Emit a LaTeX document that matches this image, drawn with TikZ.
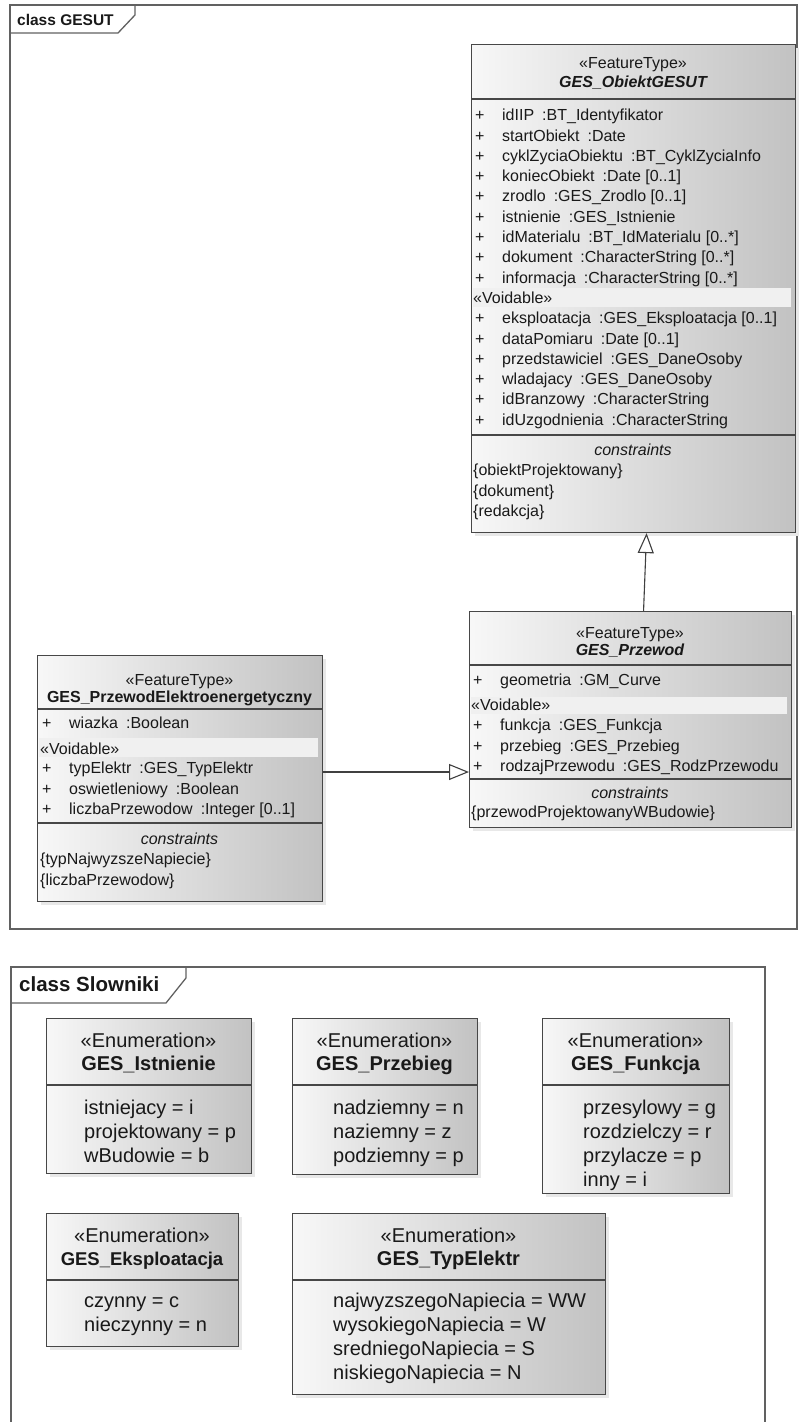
\documentclass[tikz,border=0pt]{standalone}
\usepackage{fontspec}
\setmainfont{Liberation Sans}
\usetikzlibrary{arrows.meta,shadows}
\newcommand\fsA{\fontsize{16pt}{20.3pt}\selectfont}
\newcommand\fsB{\fontsize{20pt}{24pt}\selectfont}
\newcommand\attrib[2]{#1\hspace{0.5em}:#2}
\begin{document}
\begin{tikzpicture}[x=1pt,y=-1pt,
  frame/.style={draw=black!62, line width=1.3pt},
  umlbox/.style={rectangle, anchor=north west, inner sep=0pt, draw=black!72, line width=1.1pt,
     left color=black!3, right color=black!24,
     general shadow={fill=black!9, shadow xshift=3pt, shadow yshift=-3pt}},
  sep/.style={draw=black!72, line width=1.1pt},
  band/.style={fill=black!6},
  hdr/.style={anchor=base, inner sep=0pt, font=\fsA, text=black!90},
  rows/.style={anchor=base west, inner sep=0pt, font=\fsA, text=black!90},
  ehdr/.style={anchor=base, inner sep=0pt, font=\fsB, text=black!90},
  erows/.style={anchor=base west, inner sep=0pt, font=\fsB, text=black!90},
  gen/.style={draw=black!75, line width=1.1pt, -{Triangle[open, length=20pt, width=16pt, fill=white]}}
]
\useasboundingbox (0,0) rectangle (810,1422);
\clip (0,0) rectangle (810,1422);
\fill[white] (0,0) rectangle (810,1422);

% ---------- frame GESUT ----------
\draw[frame] (10,5) rectangle (797,929);
\draw[frame] (10,33) -- (118,33) -- (135,15) -- (135,5);
\node[anchor=base west, inner sep=0pt, font=\fontsize{15.5pt}{18pt}\selectfont\bfseries, text=black!90] (lblgesut) at (17,25) {class GESUT};

% ---------- GES_ObiektGESUT ----------
\node[umlbox, minimum width=324pt, minimum height=488pt] (obiekt) at (471,44) {};
\node[hdr] (obS) at (633,68.7) {«FeatureType»};
\node[hdr, font=\fsA\bfseries\itshape] (obN) at (633,87.7) {GES\_ObiektGESUT};
\draw[sep] (obiekt.west |- 0,99) -- (obiekt.east |- 0,99);
\node[rows] (obA) at (475,120.7) {\begin{tabular}[t]{@{}p{27pt}@{}l@{}}
+ & \attrib{idIIP}{BT\_Identyfikator}\\
+ & \attrib{startObiekt}{Date}\\
+ & \attrib{cyklZyciaObiektu}{BT\_CyklZyciaInfo}\\
+ & \attrib{koniecObiekt}{Date [0..1]}\\
+ & \attrib{zrodlo}{GES\_Zrodlo [0..1]}\\
+ & \attrib{istnienie}{GES\_Istnienie}\\
+ & \attrib{idMaterialu}{BT\_IdMaterialu [0..*]}\\
+ & \attrib{dokument}{CharacterString [0..*]}\\
+ & \attrib{informacja}{CharacterString [0..*]}
\end{tabular}};
\fill[band] ([xshift=2pt]obiekt.west |- 0,288) rectangle ([xshift=-5pt]obiekt.east |- 0,307);
\node[rows] (obV) at (473,303.5) {«Voidable»};
\node[rows] (obB) at (475,323.7) {\begin{tabular}[t]{@{}p{27pt}@{}l@{}}
+ & \attrib{eksploatacja}{GES\_Eksploatacja [0..1]}\\
+ & \attrib{dataPomiaru}{Date [0..1]}\\
+ & \attrib{przedstawiciel}{GES\_DaneOsoby}\\
+ & \attrib{wladajacy}{GES\_DaneOsoby}\\
+ & \attrib{idBranzowy}{CharacterString}\\
+ & \attrib{idUzgodnienia}{CharacterString}
\end{tabular}};
\draw[sep] (obiekt.west |- 0,435) -- (obiekt.east |- 0,435);
\node[hdr, font=\fsA\itshape] (obC) at (633,455.7) {constraints};
\node[rows] (obD) at (473,475.7) {\begin{tabular}[t]{@{}l@{}}
\{obiektProjektowany\}\\
\{dokument\}\\
\{redakcja\}
\end{tabular}};

% ---------- GES_Przewod ----------
\node[umlbox, minimum width=322pt, minimum height=216pt] (przewod) at (469,611) {};
\node[hdr] (prS) at (630,638.7) {«FeatureType»};
\node[hdr, font=\fsA\bfseries\itshape] (prN) at (630,655.7) {GES\_Przewod};
\draw[sep] (przewod.west |- 0,665) -- (przewod.east |- 0,665);
\node[rows] (prA) at (473,685.7) {\begin{tabular}[t]{@{}p{27pt}@{}l@{}}
+ & \attrib{geometria}{GM\_Curve}
\end{tabular}};
\fill[band] ([xshift=2pt]przewod.west |- 0,697) rectangle ([xshift=-5pt]przewod.east |- 0,714);
\node[rows] (prV) at (471,710.5) {«Voidable»};
\node[rows] (prB) at (473,730.7) {\begin{tabular}[t]{@{}p{27pt}@{}l@{}}
+ & \attrib{funkcja}{GES\_Funkcja}\\
+ & \attrib{przebieg}{GES\_Przebieg}\\
+ & \attrib{rodzajPrzewodu}{GES\_RodzPrzewodu}
\end{tabular}};
\draw[sep] (przewod.west |- 0,779) -- (przewod.east |- 0,779);
\node[hdr, font=\fsA\itshape] (prC) at (630,798.7) {constraints};
\node[rows] (prD) at (471,817.7) {\{przewodProjektowanyWBudowie\}};

% ---------- GES_PrzewodElektroenergetyczny ----------
\node[umlbox, minimum width=285pt, minimum height=246pt] (elektro) at (37,655) {};
\node[hdr] (elS) at (179.5,685.7) {«FeatureType»};
\node[hdr, font=\fsA\bfseries] (elN) at (179.5,702.7) {GES\_PrzewodElektroenergetyczny};
\draw[sep] (elektro.west |- 0,709) -- (elektro.east |- 0,709);
\node[rows] (elA) at (42,728.7) {\begin{tabular}[t]{@{}p{27pt}@{}l@{}}
+ & \attrib{wiazka}{Boolean}
\end{tabular}};
\fill[band] ([xshift=2pt]elektro.west |- 0,738) rectangle ([xshift=-5pt]elektro.east |- 0,757);
\node[rows] (elV) at (40,754) {«Voidable»};
\node[rows] (elB) at (42,773.7) {\begin{tabular}[t]{@{}p{27pt}@{}l@{}}
+ & \attrib{typElektr}{GES\_TypElektr}\\
+ & \attrib{oswietleniowy}{Boolean}\\
+ & \attrib{liczbaPrzewodow}{Integer [0..1]}
\end{tabular}};
\draw[sep] (elektro.west |- 0,823) -- (elektro.east |- 0,823);
\node[hdr, font=\fsA\itshape] (elC) at (179.5,844.7) {constraints};
\node[rows] (elD) at (40,864.7) {\begin{tabular}[t]{@{}l@{}}
\{typNajwyzszeNapiecie\}\\
\{liczbaPrzewodow\}
\end{tabular}};

% ---------- connectors ----------
\coordinate (rl) at (0,772);
\draw[gen] ([xshift=13pt]przewod.north) -- ([xshift=13pt]obiekt.south);
\draw[gen] (elektro.east |- rl) -- (przewod.west |- rl);

% ---------- frame Slowniki ----------
\draw[frame] (11,1440) -- (11,967) -- (765,967) -- (765,1440);
\draw[frame] (11,1003) -- (166,1003) -- (186,978) -- (186,967);
\node[anchor=base west, inner sep=0pt, font=\fontsize{20.5pt}{24pt}\selectfont\bfseries, text=black!90] (lblslow) at (19,991) {class Slowniki};

% GES_Istnienie
\node[umlbox, minimum width=205pt, minimum height=155pt] (istn) at (46,1018) {};
\node[ehdr] (isS) at (148.5,1047.3) {«Enumeration»};
\node[ehdr, font=\fsB\bfseries] (isN) at (148.5,1070.3) {GES\_Istnienie};
\draw[sep] (istn.west |- 0,1085) -- (istn.east |- 0,1085);
\node[erows] (isA) at (84,1114.3) {\begin{tabular}[t]{@{}l@{}}
istniejacy = i\\ projektowany = p\\ wBudowie = b
\end{tabular}};

% GES_Przebieg
\node[umlbox, minimum width=185pt, minimum height=156pt] (przeb) at (292,1018) {};
\node[ehdr] (pbS) at (384.5,1047.3) {«Enumeration»};
\node[ehdr, font=\fsB\bfseries] (pbN) at (384.5,1070.3) {GES\_Przebieg};
\draw[sep] (przeb.west |- 0,1085) -- (przeb.east |- 0,1085);
\node[erows] (pbA) at (333,1114.3) {\begin{tabular}[t]{@{}l@{}}
nadziemny = n\\ naziemny = z\\ podziemny = p
\end{tabular}};

% GES_Funkcja
\node[umlbox, minimum width=187pt, minimum height=175pt] (funk) at (542,1018) {};
\node[ehdr] (fkS) at (635.5,1047.3) {«Enumeration»};
\node[ehdr, font=\fsB\bfseries] (fkN) at (635.5,1070.3) {GES\_Funkcja};
\draw[sep] (funk.west |- 0,1085) -- (funk.east |- 0,1085);
\node[erows] (fkA) at (583,1114.3) {\begin{tabular}[t]{@{}l@{}}
przesylowy = g\\ rozdzielczy = r\\ przylacze = p\\ inny = i
\end{tabular}};

% GES_Eksploatacja
\node[umlbox, minimum width=192pt, minimum height=133pt] (eksp) at (46,1213) {};
\node[ehdr] (ekS) at (142,1242.3) {«Enumeration»};
\node[ehdr, font=\fontsize{18.5pt}{24pt}\selectfont\bfseries] (ekN) at (142,1265.3) {GES\_Eksploatacja};
\draw[sep] (eksp.west |- 0,1280) -- (eksp.east |- 0,1280);
\node[erows] (ekA) at (84,1307.3) {\begin{tabular}[t]{@{}l@{}}
czynny = c\\ nieczynny = n
\end{tabular}};

% GES_TypElektr
\node[umlbox, minimum width=313pt, minimum height=181pt] (typel) at (292,1213) {};
\node[ehdr] (teS) at (448.5,1242.3) {«Enumeration»};
\node[ehdr, font=\fsB\bfseries] (teN) at (448.5,1265.3) {GES\_TypElektr};
\draw[sep] (typel.west |- 0,1280) -- (typel.east |- 0,1280);
\node[erows] (teA) at (333,1307.3) {\begin{tabular}[t]{@{}l@{}}
najwyzszegoNapiecia = WW\\ wysokiegoNapiecia = W\\ sredniegoNapiecia = S\\ niskiegoNapiecia = N
\end{tabular}};
\end{tikzpicture}
\end{document}
